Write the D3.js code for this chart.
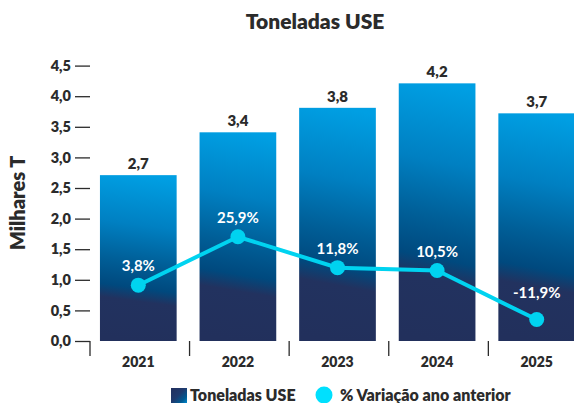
<!DOCTYPE html>
<html><head><meta charset="utf-8">
<script src="https://cdn.jsdelivr.net/npm/d3@7"></script>
<style>
html,body{margin:0;padding:0;background:#fff;}
svg{display:block;font-family:Lato, "Open Sans", sans-serif;}
</style></head>
<body>
<svg id="chart" width="574" height="403"></svg>
<script>
const years = ["2021", "2022", "2023", "2024", "2025"];
const tons = [2.71, 3.41, 3.81, 4.21, 3.72];
const tonLabels = ["2,7", "3,4", "3,8", "4,2", "3,7"];
const variation = [3.8, 25.9, 11.8, 10.5, -11.9];
const varLabels = ["3,8%", "25,9%", "11,8%", "10,5%", "-11,9%"];
const yTicks = [0, 0.5, 1, 1.5, 2, 2.5, 3, 3.5, 4, 4.5];
const title = "Toneladas USE";
const yTitle = "Milhares T";
const legendBars = "Toneladas USE";
const legendLine = "% Variação ano anterior";

const svg = d3.select("#chart");
const dark = "#2b2b2b";
const cyan = "#00d3f0";
const W = 800;

const x = d3.scaleBand().domain(years).range([88.5, 586.5]).paddingInner(0.23).paddingOuter(0.115);
const y = d3.scaleLinear().domain([0, 4.5]).range([341, 65.6]);
const y2 = d3.scaleLinear().domain([-20, 100]).range([337.3, 74.5]);
const fmt = v => d3.format(".1f")(v).replace(".", ",");

const defs = svg.append("defs");
const g = defs.append("linearGradient").attr("id", "barGrad")
  .attr("x1", 0.53).attr("y1", 0).attr("x2", 0.47).attr("y2", 1);
[[0, "#009fe3"], [0.3, "#0080c2"], [0.52, "#005f98"], [0.68, "#00497e"], [0.76, "#22325f"], [1, "#22305c"]]
  .forEach(([o, c]) => g.append("stop").attr("offset", o).attr("stop-color", c));
const lg = defs.append("linearGradient").attr("id", "legGrad")
  .attr("x1", 0).attr("y1", 0).attr("x2", 1).attr("y2", 1);
[[0, "#22305e"], [0.45, "#1f3a6e"], [0.75, "#005a92"], [1, "#0090d6"]]
  .forEach(([o, c]) => lg.append("stop").attr("offset", o).attr("stop-color", c));

// title
svg.append("text").attr("x", 315).attr("y", 29).attr("text-anchor", "middle")
  .attr("font-size", 21).attr("font-weight", W).attr("fill", dark).text(title);

// y axis title
svg.append("text").attr("transform", "translate(25,203) rotate(-90)").attr("text-anchor", "middle")
  .attr("font-size", 20).attr("font-weight", W).attr("fill", dark).text(yTitle);

// y axis
const yAxis = d3.axisLeft(y).tickValues(yTicks).tickFormat(fmt).tickSize(15).tickPadding(4);
const ya = svg.append("g").attr("transform", "translate(90,0)").call(yAxis);
ya.select(".domain").remove();
ya.selectAll(".tick line").attr("stroke", dark).attr("stroke-width", 1.3);
ya.selectAll(".tick text").attr("font-size", 14.5).attr("font-weight", W).attr("fill", dark)
  .attr("font-family", "Lato, sans-serif");

// x axis ticks (boundaries)
svg.append("line").attr("x1", 90).attr("x2", 90).attr("y1", y(0)).attr("y2", 356)
  .attr("stroke", dark).attr("stroke-width", 1.3);
svg.selectAll(".xtick").data(years.slice(1)).enter().append("line")
  .attr("x1", d => x(d) - 10).attr("x2", d => x(d) - 10)
  .attr("y1", y(0)).attr("y2", 356).attr("stroke", dark).attr("stroke-width", 1.3);
svg.selectAll(".xlab").data(years).enter().append("text")
  .attr("x", d => x(d) + x.bandwidth() / 2).attr("y", 367).attr("text-anchor", "middle")
  .attr("font-size", 14).attr("font-weight", W).attr("fill", dark).text(d => d);

// bars
svg.selectAll(".bar").data(years).enter().append("rect")
  .attr("x", d => x(d)).attr("width", x.bandwidth())
  .attr("y", (d, i) => y(tons[i])).attr("height", (d, i) => y(0) - y(tons[i]))
  .attr("fill", "url(#barGrad)");
svg.selectAll(".blab").data(years).enter().append("text")
  .attr("x", d => x(d) + x.bandwidth() / 2).attr("y", (d, i) => y(tons[i]) - 6)
  .attr("text-anchor", "middle").attr("font-size", 15).attr("font-weight", W).attr("fill", dark)
  .text((d, i) => tonLabels[i]);

// line
const cx = d => x(d) + x.bandwidth() / 2;
const line = d3.line().x((d, i) => cx(years[i])).y(d => y2(d));
svg.append("path").datum(variation).attr("d", line).attr("fill", "none")
  .attr("stroke", cyan).attr("stroke-width", 4);
svg.selectAll(".pt").data(variation).enter().append("circle")
  .attr("cx", (d, i) => cx(years[i])).attr("cy", d => y2(d)).attr("r", 7.5).attr("fill", cyan);
svg.selectAll(".plab").data(variation).enter().append("text")
  .attr("x", (d, i) => cx(years[i])).attr("y", d => y2(d) - (d < 0 ? 22 : 14))
  .attr("text-anchor", "middle").attr("font-size", 15).attr("font-weight", 700).attr("fill", "#fff")
  .text((d, i) => varLabels[i]);

// legend
svg.append("rect").attr("x", 171).attr("y", 388).attr("width", 16).attr("height", 16).attr("fill", "url(#legGrad)");
svg.append("text").attr("x", 190).attr("y", 401).attr("font-size", 16).attr("font-weight", W)
  .attr("fill", dark).text(legendBars);
svg.append("circle").attr("cx", 324).attr("cy", 395).attr("r", 8.5).attr("fill", "#00e0fe");
svg.append("text").attr("x", 340).attr("y", 401).attr("font-size", 16).attr("font-weight", W)
  .attr("fill", dark).text(legendLine);
</script>
</body></html>
